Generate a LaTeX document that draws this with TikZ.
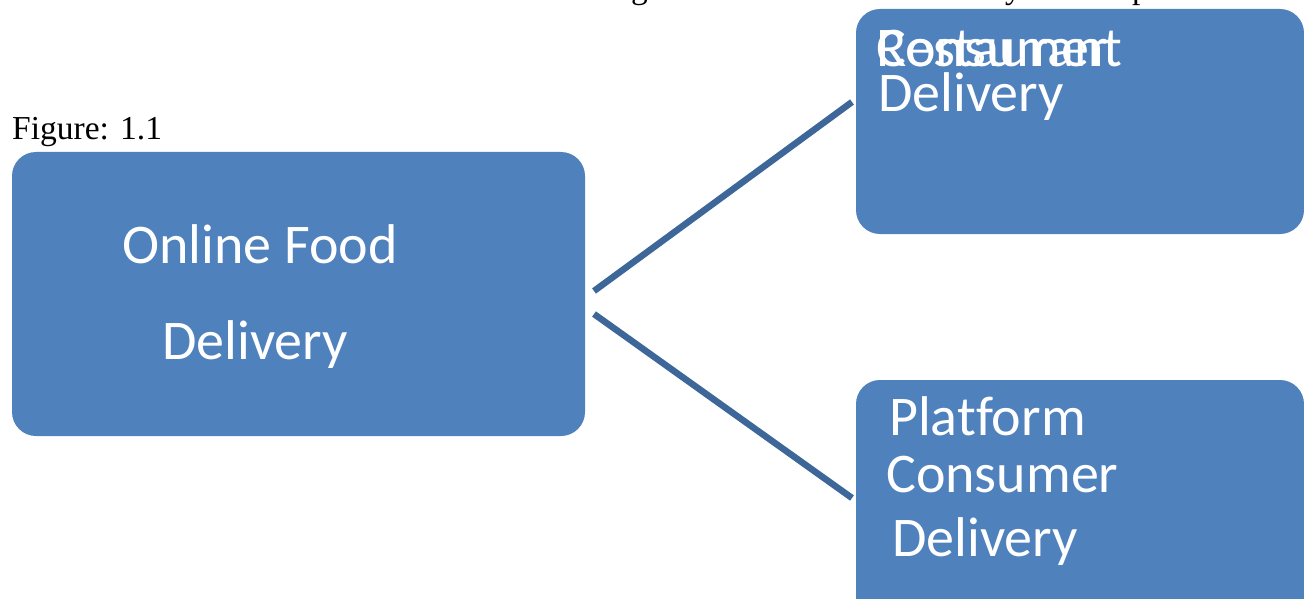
\documentclass[tikz,border=0pt]{standalone}
\usepackage{fontspec}
\setmainfont{Carlito}[Ligatures=NoCommon]
\newfontfamily\timesfont{Liberation Serif}
\definecolor{boxblue}{HTML}{4F81BD}
\definecolor{lineblue}{HTML}{3D6699}
\begin{document}
\begin{tikzpicture}[x=1pt,y=-1pt,
  box/.style={fill=boxblue,rounded corners=24pt},
  lbl/.style={text=white,anchor=base west,inner sep=0pt,font=\fontsize{56}{56}\selectfont},
  serif/.style={anchor=base west,inner sep=0pt,font=\timesfont\fontsize{33.5}{33.5}\selectfont},
  conn/.style={draw=lineblue,line width=6.5pt}]
\useasboundingbox (0,0) rectangle (1304,599);
\clip (0,0) rectangle (1304,599);
\fill[white] (0,0) rectangle (1304,599);
% clipped descenders of the line above
\node[serif] (cg) at (631,-1) {g};
\node[serif] (cy) at (1005,-1) {y};
\node[serif] (cp) at (1132,-1) {p};
\node[serif] (fig) at (12,140) {Figure: 1.1};
% boxes
\path[box] (12,152) rectangle (585,436);
\path[box] (856,9) rectangle (1304,234);
\path[box] (856,380) rectangle (1304,640);
\node[inner sep=0pt,minimum width=573pt,minimum height=284pt] (online) at (298.5,294) {};
\node[inner sep=0pt,minimum width=448pt,minimum height=225pt] (rest) at (1080,121.5) {};
\node[inner sep=0pt,minimum width=448pt,minimum height=260pt] (plat) at (1080,510) {};
% texts
\node[lbl] (t1) at (122,263) {Online Food};
\node[lbl] (t2) at (162,359) {Delivery};
\node[lbl] (t3) at (876,67) {Restaurant};
\node[lbl] (t4) at (876,67) {Consumer};
\node[lbl] (t5) at (878,112) {Delivery};
\node[lbl] (t6) at (889,435) {Platform};
\node[lbl] (t7) at (886,492) {Consumer};
\node[lbl] (t8) at (892,556) {Delivery};
% connectors
\coordinate (a1) at (594,291);
\coordinate (b1) at (852,102);
\coordinate (a2) at (594,314);
\coordinate (b2) at (852,498);
\draw[conn] (a1) -- (b1);
\draw[conn] (a2) -- (b2);
\end{tikzpicture}
\end{document}
